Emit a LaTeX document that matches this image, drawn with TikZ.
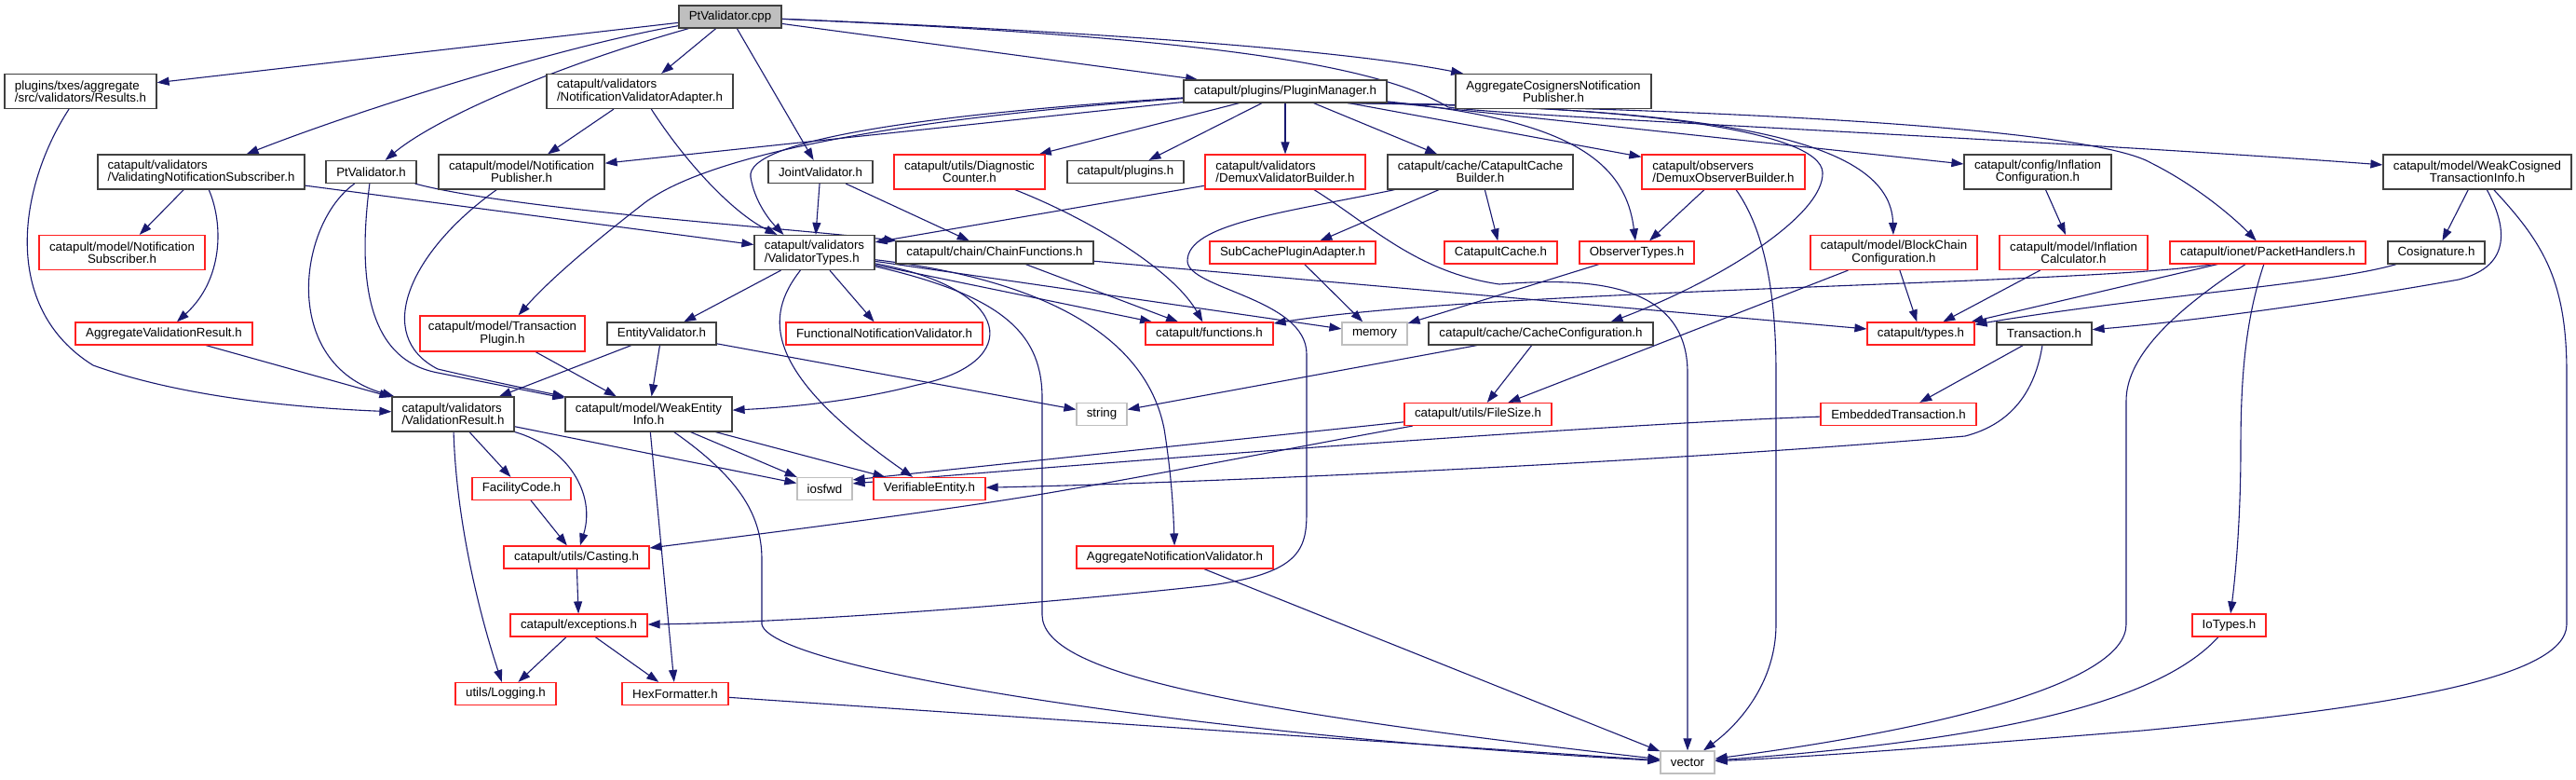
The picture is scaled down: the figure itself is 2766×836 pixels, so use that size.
\documentclass[tikz,border=0pt]{standalone}
\usepackage{fontspec}
\setmainfont{Liberation Sans}
\usetikzlibrary{arrows.meta,backgrounds}
\definecolor{edgecol}{HTML}{191970}
\definecolor{redc}{HTML}{FF2020}
\definecolor{grayc}{HTML}{BFBFBF}
\definecolor{darkc}{HTML}{404040}
\newcommand\dxfont{\fontsize{13.3}{13.3}\selectfont}
\tikzset{
  box/.style={draw=darkc, fill=white, line width=1.2pt, inner sep=0pt, minimum height=24pt, font=\dxfont, align=center, text=black},
  two/.style={minimum height=37pt},
  redb/.style={box, draw=redc},
  grayb/.style={box, draw=grayc},
  root/.style={box, fill=grayc, draw=darkc},
  mw/.style={minimum width=#1},
  edge/.style={draw=edgecol, line width=1.1pt, -{Triangle[length=13pt,width=9pt]}},
}
\begin{document}
\begin{tikzpicture}[x=1pt,y=-1pt]
\useasboundingbox (0,0) rectangle (2766,836);
% row 0-1
\node[root,mw=110pt] (cpp) at (784,18) {PtValidator.cpp};
\node[box,two,mw=163pt,align=left] (results) at (86.5,98) {plugins/txes/aggregate\\/src/validators/Results.h};
\node[box,two,mw=200pt,align=left] (nva) at (687,98) {catapult/validators\\/NotificationValidatorAdapter.h};
\node[box,mw=218pt] (pm) at (1380,98) {catapult/plugins/PluginManager.h};
\node[box,two,mw=210pt] (aggcos) at (1668,98) {AggregateCosignersNotification\\Publisher.h};
% row 2
\node[box,two,mw=222pt,align=left] (vns) at (216,184.5) {catapult/validators\\/ValidatingNotificationSubscriber.h};
\node[box,mw=97pt] (ptvh) at (398.5,184.5) {PtValidator.h};
\node[box,two,mw=178pt] (npub) at (560,184.5) {catapult/model/Notification\\Publisher.h};
\node[box,mw=112pt] (joint) at (881,184.5) {JointValidator.h};
\node[redb,two,mw=162pt] (diag) at (1041,184.5) {catapult/utils/Diagnostic\\Counter.h};
\node[box,mw=125pt] (plugins) at (1208.5,184.5) {catapult/plugins.h};
\node[redb,two,mw=172pt,align=left] (dvb) at (1380,184.5) {catapult/validators\\/DemuxValidatorBuilder.h};
\node[box,two,mw=199pt] (ccb) at (1589.5,184.5) {catapult/cache/CatapultCache\\Builder.h};
\node[redb,two,mw=175pt,align=left] (dob) at (1850.5,184.5) {catapult/observers\\/DemuxObserverBuilder.h};
\node[box,two,mw=158pt] (infconf) at (2188,184.5) {catapult/config/Inflation\\Configuration.h};
\node[box,two,mw=202pt] (wcti) at (2660,184.5) {catapult/model/WeakCosigned\\TransactionInfo.h};
% row 3
\node[redb,two,mw=178pt] (nsub) at (131,271) {catapult/model/Notification\\Subscriber.h};
\node[box,two,mw=129pt,align=left] (vt) at (874.5,271) {catapult/validators\\/ValidatorTypes.h};
\node[box,mw=212pt] (chain) at (1068,271) {catapult/chain/ChainFunctions.h};
\node[redb,mw=178pt] (subcache) at (1388,271) {SubCachePluginAdapter.h};
\node[redb,mw=121pt] (ccache) at (1611.5,271) {CatapultCache.h};
\node[redb,mw=123pt] (obs) at (1757.5,271) {ObserverTypes.h};
\node[redb,two,mw=179pt] (bcc) at (2033.5,271) {catapult/model/BlockChain\\Configuration.h};
\node[redb,two,mw=159pt] (infcalc) at (2226.5,271) {catapult/model/Inflation\\Calculator.h};
\node[redb,mw=210pt] (packet) at (2435,271) {catapult/ionet/PacketHandlers.h};
\node[box,mw=104pt] (cosig) at (2616,271) {Cosignature.h};
% row 4
\node[redb,mw=190pt] (aggvr) at (176,358) {AggregateValidationResult.h};
\node[redb,mw=177pt,minimum height=38pt] (txplugin) at (539.5,358) {catapult/model/Transaction\\Plugin.h};
\node[box,mw=117pt] (entity) at (710.5,358) {EntityValidator.h};
\node[redb,mw=211pt] (funcnv) at (949.5,358) {FunctionalNotificationValidator.h};
\node[redb,mw=137pt] (functions) at (1298.5,358) {catapult/functions.h};
\node[grayb,mw=70pt] (memory) at (1476,358) {memory};
\node[box,mw=241pt] (cacheconf) at (1654.5,358) {catapult/cache/CacheConfiguration.h};
\node[redb,mw=115pt] (types) at (2062.5,358) {catapult/types.h};
\node[box,mw=102pt] (tx) at (2195,358) {Transaction.h};
% row 5
\node[box,two,mw=131pt,align=left] (vr) at (486.5,444.5) {catapult/validators\\/ValidationResult.h};
\node[box,two,mw=179pt] (wei) at (696.5,444.5) {catapult/model/WeakEntity\\Info.h};
\node[grayb,mw=54pt] (string) at (1183,444.5) {string};
\node[redb,mw=158pt] (filesize) at (1587,444.5) {catapult/utils/FileSize.h};
\node[redb,mw=167pt] (embtx) at (2038.5,444.5) {EmbeddedTransaction.h};
% row 6-10
\node[redb,mw=106pt] (facility) at (560,524.5) {FacilityCode.h};
\node[grayb,mw=59pt] (iosfwd) at (885.5,524.5) {iosfwd};
\node[redb,mw=120pt] (verif) at (998,524.5) {VerifiableEntity.h};
\node[redb,mw=156pt] (casting) at (619,598) {catapult/utils/Casting.h};
\node[redb,mw=211pt] (aggnv) at (1261.5,598) {AggregateNotificationValidator.h};
\node[redb,mw=147pt] (exc) at (621.5,671) {catapult/exceptions.h};
\node[redb,mw=79pt] (iotypes) at (2393.5,671) {IoTypes.h};
\node[redb,mw=108pt] (logging) at (543,744.5) {utils/Logging.h};
\node[redb,mw=114pt] (hex) at (725,744.5) {HexFormatter.h};
\node[grayb,mw=58pt] (vector) at (1812,818) {vector};

\begin{scope}[on background layer]
\fill[white] (0,0) rectangle (2766,836);
% PtValidator.cpp
\draw[edge] (cpp) -- (results);
\draw[edge] (cpp) .. controls (600,50) and (380,120) .. (vns);
\draw[edge] (cpp) .. controls (600,70) and (470,125) .. (ptvh);
\draw[edge] (cpp) -- (nva);
\draw[edge] (cpp) -- (joint);
\draw[edge] (cpp) -- (pm);
\draw[edge] (cpp) .. controls (1200,35) and (1450,55) .. (aggcos);
\draw[edge] (cpp) .. controls (1300,40) and (1480,70) .. (1555,115) .. controls (1620,125) and (2200,150) .. (wcti);
% Results
\draw[edge] (results) .. controls (20,200) and (0,330) .. (100,392) .. controls (200,428) and (330,438) .. (vr);
% ValidatingNotificationSubscriber
\draw[edge] (vns) -- (nsub);
\draw[edge] (vns) .. controls (240,240) and (240,300) .. (aggvr);
\draw[edge] (vns) -- (vt);
% PtValidator.h
\draw[edge] (ptvh) .. controls (320,240) and (300,390) .. ([xshift=3pt]vr.north west);
\draw[edge] (ptvh) .. controls (385,290) and (390,385) .. (470,400) .. controls (530,412) and (580,422) .. (wei);
\draw[edge] (ptvh) .. controls (550,225) and (850,245) .. (chain);
% NotificationValidatorAdapter
\draw[edge] (nva) -- (npub);
\draw[edge] (nva) .. controls (740,180) and (790,230) .. ([xshift=-40pt]vt.north);
% NotificationPublisher
\draw[edge] (npub) .. controls (440,270) and (400,360) .. (470,396) .. controls (530,410) and (580,420) .. (wei);
% PluginManager
\draw[edge] (pm) -- (npub);
\draw[edge] (pm) .. controls (1000,122) and (800,150) .. (806,190) .. controls (810,215) and (825,235) .. ([xshift=-33pt]vt.north);
\draw[edge] (pm) .. controls (950,128) and (760,168) .. (693,217) .. controls (640,258) and (590,300) .. (txplugin);
\draw[edge] (pm) -- (diag);
\draw[edge] (pm) -- (plugins);
\draw[edge] (pm) -- (dvb);
\draw[edge] (pm) -- (ccb);
\draw[edge] (pm) -- (dob);
\draw[edge] (pm) .. controls (1680,128) and (1745,170) .. (obs);
\draw[edge] ([xshift=67pt]pm.south) .. controls (1750,112) and (1955,140) .. (1957,185) .. controls (1959,230) and (1850,300) .. ([xshift=75pt]cacheconf.north);
\draw[edge] ([xshift=67pt]pm.south) .. controls (1850,115) and (2030,150) .. (bcc);
\draw[edge] (pm) -- (infconf);
\draw[edge] ([xshift=67pt]pm.south) .. controls (1900,118) and (2250,140) .. (2310,175) .. controls (2360,200) and (2400,235) .. (packet);
% JointValidator
\draw[edge] (joint) -- (vt);
\draw[edge] (joint) -- (chain);
% DiagnosticCounter
\draw[edge] (diag) .. controls (1170,235) and (1260,290) .. (functions);
% DemuxValidatorBuilder
\draw[edge] (dvb) -- (vt);
\draw[edge] (dvb) .. controls (1470,240) and (1520,292) .. (1610,305) .. controls (1700,298) and (1812,300) .. (1812,400) -- (vector);
% CatapultCacheBuilder
\draw[edge] (ccb) -- (subcache);
\draw[edge] (ccb) -- (ccache);
\draw[edge] (ccb) .. controls (1380,228) and (1275,240) .. (1275,280) .. controls (1275,310) and (1403,320) .. (1403,380) -- (1403,550) .. controls (1403,590) and (1395,615) .. (1300,628) .. controls (1100,650) and (850,668) .. (exc);
% DemuxObserverBuilder
\draw[edge] (dob) -- (obs);
\draw[edge] (dob) .. controls (1890,240) and (1907,300) .. (1907,400) -- (1907,670) .. controls (1907,730) and (1870,775) .. (vector);
% Inflation / WeakCosigned
\draw[edge] (infconf) -- (infcalc);
\draw[edge] (wcti) -- (cosig);
\draw[edge] (wcti) .. controls (2690,240) and (2700,285) .. (2640,300) .. controls (2500,325) and (2350,345) .. (tx);
\draw[edge] (wcti) .. controls (2730,260) and (2756,300) .. (2756,400) -- (2756,670) .. controls (2756,730) and (2550,760) .. (2300,784) .. controls (2100,800) and (1950,812) .. (vector);
% PacketHandlers
\draw[edge] (packet) -- (types);
\draw[edge] ([xshift=-59pt]packet.south) .. controls (2250,305) and (1600,310) .. (functions);
\draw[edge] (packet) .. controls (2412,340) and (2406,400) .. (2406,480) .. controls (2406,560) and (2400,620) .. (iotypes);
\draw[edge] ([xshift=-24pt]packet.south) .. controls (2340,330) and (2283,380) .. (2283,430) -- (2283,670) .. controls (2283,730) and (2100,780) .. (vector);
% Cosignature, InflationCalculator, BlockChainConfiguration
\draw[edge] (cosig) .. controls (2500,305) and (2300,318) .. (types);
\draw[edge] (infcalc) -- (types);
\draw[edge] (bcc) -- (types);
\draw[edge] (bcc) -- (filesize);
% CacheConfiguration
\draw[edge] (cacheconf) -- (filesize);
\draw[edge] (cacheconf) -- (string);
% ChainFunctions
\draw[edge] (chain) -- (functions);
\draw[edge] (chain) -- (types);
% SubCache, ObserverTypes
\draw[edge] (subcache) -- (memory);
\draw[edge] (obs) -- (memory);
% ValidatorTypes
\draw[edge] (vt) -- (entity);
\draw[edge] (vt) -- (funcnv);
\draw[edge] (vt) -- (functions);
\draw[edge] (vt) -- (memory);
\draw[edge] (vt) .. controls (820,340) and (820,400) .. (verif);
\draw[edge] (vt) .. controls (1090,310) and (1100,390) .. (985,413) .. controls (920,430) and (850,437) .. (wei);
\draw[edge] (vt) .. controls (1080,318) and (1120,360) .. (1119,430) -- (1119,660) .. controls (1120,720) and (1300,760) .. (vector);
\draw[edge] (vt) .. controls (1120,300) and (1230,360) .. (1250,460) .. controls (1258,510) and (1260,550) .. (aggnv);
% EntityValidator, TransactionPlugin, AggregateValidationResult
\draw[edge] (entity) -- (vr);
\draw[edge] (entity) -- (wei);
\draw[edge] (entity) -- (string);
\draw[edge] (txplugin) -- (wei);
\draw[edge] (aggvr) -- (vr);
% ValidationResult
\draw[edge] (vr) -- (facility);
\draw[edge] (vr) .. controls (610,480) and (640,530) .. (casting);
\draw[edge] (vr) .. controls (490,560) and (515,660) .. (logging);
\draw[edge] (vr) -- (iosfwd);
% WeakEntityInfo
\draw[edge] (wei) -- (hex);
\draw[edge] (wei) -- (iosfwd);
\draw[edge] (wei) -- (verif);
\draw[edge] (wei) .. controls (790,510) and (818,550) .. (818,600) -- (818,670) .. controls (830,720) and (1300,790) .. (vector);
% lower chain
\draw[edge] (facility) -- (casting);
\draw[edge] (casting) -- (exc);
\draw[edge] (exc) -- (logging);
\draw[edge] (exc) -- (hex);
\draw[edge] (hex) -- (vector);
\draw[edge] (aggnv) -- (vector);
\draw[edge] (iotypes) .. controls (2330,740) and (2200,790) .. (vector);
% Transaction, EmbeddedTransaction, FileSize
\draw[edge] (tx) -- (embtx);
\draw[edge] (tx) .. controls (2185,420) and (2160,455) .. (2110,468) .. controls (1800,495) and (1300,518) .. (verif);
\draw[edge] (embtx) .. controls (1800,452) and (1380,480) .. ([yshift=-7pt]iosfwd.north east);
\draw[edge] (filesize) -- ([yshift=-3pt]iosfwd.north east);
\draw[edge] (filesize) .. controls (1400,478) and (1250,508) .. (1120,530) .. controls (1000,550) and (800,575) .. (casting);
\end{scope}
\end{tikzpicture}
\end{document}
